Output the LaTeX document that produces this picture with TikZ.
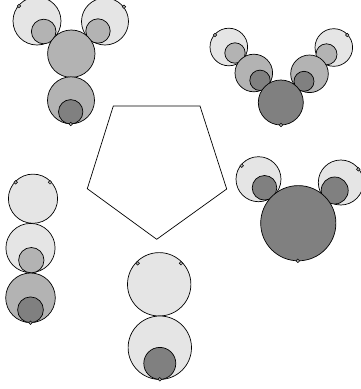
\documentclass[tikz,border=0pt]{standalone}
\definecolor{lightc}{RGB}{229,229,229}
\definecolor{medc}{RGB}{179,179,179}
\definecolor{darkc}{RGB}{128,128,128}
\tikzset{
  disc/.style={draw=black, line width=0.7pt},
  lt/.style={disc, fill=lightc},
  md/.style={disc, fill=medc},
  dk/.style={disc, fill=darkc},
  pin/.style={draw=black, fill=medc, line width=0.5pt},
}
\begin{document}
\begin{tikzpicture}[x=1pt,y=-1pt]
\useasboundingbox (0,0) rectangle (360,389);
% pentagon
\draw[line width=0.7pt] (113.3,106) -- (200,106) -- (226.7,189) -- (156.7,239.3) -- (87.3,188.7) -- cycle;
% figure 1 (top left)
\draw[lt] (37,21) circle (24);
\draw[md] (43.7,31.5) circle (12.3);
\draw[lt] (105,21.5) circle (23.5);
\draw[md] (98,31) circle (12.2);
\draw[md] (71.3,53.7) circle (23.7);
\draw[md] (71,100.3) circle (23.5);
\draw[dk] (70.7,111.8) circle (12.2);
\draw[pin] (19,6) circle (1.8);
\draw[pin] (124,6.7) circle (1.8);
\draw[pin] (70.7,124) circle (1.8);
% figure 2 (top right)
\draw[lt] (228.8,47) circle (18.8);
\draw[md] (235,53) circle (10.2);
\draw[lt] (333.8,47.5) circle (18.8);
\draw[md] (326.5,54.3) circle (10.5);
\draw[md] (253.8,73) circle (18.8);
\draw[dk] (260,80.3) circle (10.2);
\draw[md] (309.5,73.8) circle (18.8);
\draw[dk] (304,81.3) circle (10);
\draw[dk] (280.8,102.5) circle (22.5);
\draw[pin] (215,35) circle (1.8);
\draw[pin] (347.3,35) circle (1.8);
\draw[pin] (281,125) circle (1.8);
% figure 3 (left column)
\draw[lt] (33,198.7) circle (24.6);
\draw[lt] (30.5,248) circle (24.6);
\draw[md] (31.3,260.2) circle (12.7);
\draw[md] (30.5,297.8) circle (24.8);
\draw[dk] (30.5,309.8) circle (12.9);
\draw[pin] (15.7,182.3) circle (1.8);
\draw[pin] (50,182.3) circle (1.8);
\draw[pin] (30.5,322.7) circle (1.8);
% figure 4 (bottom middle)
\draw[lt] (159.2,284.3) circle (31.7);
\draw[lt] (159.8,347.7) circle (31.7);
\draw[dk] (159.8,363.4) circle (16);
\draw[pin] (137.7,263.3) circle (1.8);
\draw[pin] (181,263.3) circle (1.8);
\draw[pin] (159.8,379.3) circle (1.8);
% figure 5 (right)
\draw[lt] (258.5,179.2) circle (22.5);
\draw[dk] (264.5,187.8) circle (12.3);
\draw[lt] (340.8,182.5) circle (22.5);
\draw[dk] (334.7,190.5) circle (13.5);
\draw[dk] (298.3,223.2) circle (37.6);
\draw[pin] (241.7,165.7) circle (1.8);
\draw[pin] (358.3,169.3) circle (1.8);
\draw[pin] (297.8,260.8) circle (1.8);
\end{tikzpicture}
\end{document}
